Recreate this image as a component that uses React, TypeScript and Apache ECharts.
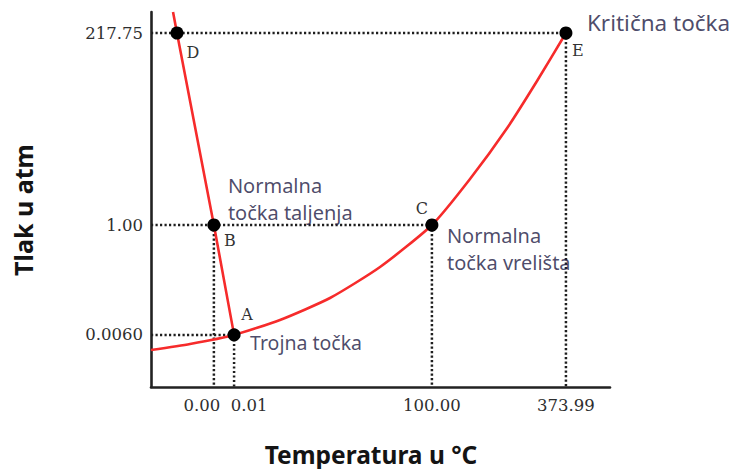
import React, { useEffect, useRef } from 'react';
import * as echarts from 'echarts';

// Schematic phase diagram of water (axes are schematic, 0..100 units)
const tempLabels = ['0.00', '0.01', '100.00', '373.99'];
const tempPos = [13.7, 18.1, 61.2, 90.4];

const pressureLabels = ['0.0060', '1.00', '217.75'];
const pressurePos = [13.9, 43.2, 94.4];

const pointNames = ['A', 'B', 'C', 'D', 'E'];
const pointX = [18.1, 13.7, 61.2, 5.66, 90.4];
const pointY = [13.9, 43.2, 43.2, 94.4, 94.4];

// melting line (solid / liquid)
const meltX = [4.8, 5.66, 13.7, 18.1];
const meltY = [100, 94.4, 43.2, 13.9];

// sublimation + vaporization curve
const vapX = [0, 8.5, 18.1, 28.1, 39.0, 49.9, 61.2, 69.5, 77.6, 84.1, 90.4];
const vapY = [9.87, 11.47, 13.87, 17.87, 23.73, 32.0, 43.2, 55.47, 69.07, 81.6, 94.4];

// guide lines: horizontal ones from the y axis to the point, vertical ones down to the x axis
const hGuideY = [13.9, 43.2, 94.4];
const hGuideEndX = [18.1, 61.2, 90.4];
const vGuideX = [13.7, 18.1, 61.2, 90.4];
const vGuideTopY = [43.2, 13.9, 43.2, 94.4];

const annotationAnchors = ['A', 'B', 'C', 'E'];
const annotationTexts = ['Trojna točka', 'Normalna\ntočka taljenja', 'Normalna\ntočka vrelišta', 'Kritična točka'];

// layout (styles only)
const letterOffsets: Record<string, number[]> = {
  A: [13, -20],
  B: [16, 15],
  C: [-10, -17],
  D: [16, 19],
  E: [12, 17],
};
const annotationOffsets: Record<string, number[]> = {
  A: [16, 8],
  B: [14, -26.5],
  C: [15, 23.5],
  E: [21, -11],
};
const annotationSizes: Record<string, number> = { A: 19.5, B: 20, C: 20, E: 22.5 };

const SERIF = 'DejaVu Serif';
const tickFont = { fontFamily: SERIF, fontSize: 16.5, color: '#2e2e2e' };
const dotted = { type: [2.2, 2.3] as number[], width: 2.5, color: '#1e1e1e', cap: 'butt' as const };

export default function App() {
  const ref = useRef<HTMLDivElement>(null);
  useEffect(() => {
    const chart = echarts.init(ref.current!, null, { renderer: 'svg' });

    const guideSeries: any[] = [];
    hGuideY.forEach((y, i) => {
      guideSeries.push({
        type: 'line',
        data: [[0, y], [hGuideEndX[i], y]],
        symbol: 'none',
        lineStyle: dotted,
        silent: true,
        z: 1,
      });
    });
    vGuideX.forEach((x, i) => {
      guideSeries.push({
        type: 'line',
        data: [[x, vGuideTopY[i]], [x, 0]],
        symbol: 'none',
        lineStyle: dotted,
        silent: true,
        z: 1,
      });
    });

    const idx = (n: string) => pointNames.indexOf(n);

    chart.setOption({
      animation: false,
      backgroundColor: '#fff',
      grid: { left: 151, right: 124, top: 12, bottom: 82, containLabel: false },
      xAxis: {
        type: 'value',
        min: 0,
        max: 100,
        axisLine: { show: true, onZero: false, lineStyle: { color: '#222', width: 2.6 } },
        axisTick: { show: false },
        splitLine: { show: false },
        axisLabel: {
          customValues: tempPos,
          margin: 10,
          ...tickFont,
          formatter: (v: number) => {
            const i = tempPos.findIndex((p) => Math.abs(p - v) < 1e-6);
            if (i < 0) return '';
            return `{t${i}|${tempLabels[i]}}`;
          },
          rich: {
            t0: { padding: [0, 24, 0, 0], ...tickFont },
            t1: { padding: [0, 0, 0, 30], ...tickFont },
            t2: { ...tickFont },
            t3: { ...tickFont },
          },
        },
      },
      yAxis: {
        type: 'value',
        min: 0,
        max: 100,
        axisLine: { show: true, onZero: false, lineStyle: { color: '#222', width: 2.6 } },
        axisTick: { show: false },
        splitLine: { show: false },
        axisLabel: {
          customValues: pressurePos,
          margin: 8,
          ...tickFont,
          formatter: (v: number) => {
            const i = pressurePos.findIndex((p) => Math.abs(p - v) < 1e-6);
            return i < 0 ? '' : pressureLabels[i];
          },
        },
      },
      series: [
        ...guideSeries,
        {
          name: 'Talište',
          type: 'line',
          data: meltX.map((x, i) => [x, meltY[i]]),
          symbol: 'none',
          lineStyle: { color: '#f62b2b', width: 2.6 },
          z: 2,
        },
        {
          name: 'Krivulja',
          type: 'line',
          data: vapX.map((x, i) => [x, vapY[i]]),
          symbol: 'none',
          smooth: 0.2,
          lineStyle: { color: '#f62b2b', width: 2.6 },
          z: 2,
        },
        {
          name: 'Točke',
          type: 'scatter',
          symbolSize: 13,
          itemStyle: { color: '#000', opacity: 1 },
          z: 4,
          data: pointNames.map((n, i) => ({
            name: n,
            value: [pointX[i], pointY[i]],
            label: {
              show: true,
              formatter: n,
              position: 'inside',
              offset: letterOffsets[n],
              align: 'center',
              verticalAlign: 'middle',
              color: '#333',
              fontFamily: SERIF,
              fontSize: 16,
            },
          })),
        },
        {
          name: 'Opisi',
          type: 'scatter',
          symbolSize: 1,
          itemStyle: { color: 'rgba(0,0,0,0)' },
          z: 5,
          silent: true,
          data: annotationAnchors.map((n, i) => ({
            name: annotationTexts[i],
            value: [pointX[idx(n)], pointY[idx(n)]],
            label: {
              show: true,
              formatter: annotationTexts[i],
              position: 'inside',
              offset: annotationOffsets[n],
              align: 'left',
              verticalAlign: 'middle',
              color: '#1d1a44',
              fontFamily: 'Noto Sans',
              fontSize: annotationSizes[n],
              lineHeight: 27,
            },
          })),
        },
      ],
      graphic: [
        {
          type: 'text',
          x: 371,
          y: 454,
          style: {
            text: 'Temperatura u °C',
            fill: '#141414',
            fontFamily: 'Noto Sans',
            fontWeight: 'bold',
            fontSize: 24.5,
            align: 'center',
            verticalAlign: 'middle',
          },
        },
        {
          type: 'text',
          x: 23,
          y: 210,
          rotation: Math.PI / 2,
          style: {
            text: 'Tlak u atm',
            fill: '#141414',
            fontFamily: 'Noto Sans',
            fontWeight: 'bold',
            fontSize: 25,
            align: 'center',
            verticalAlign: 'middle',
          },
        },
      ],
    });
    return () => chart.dispose();
  }, []);
  return (
    <div
      ref={ref}
      style={{ position: 'fixed', left: 0, top: 0, width: 734, height: 469, background: '#fff' }}
    />
  );
}
